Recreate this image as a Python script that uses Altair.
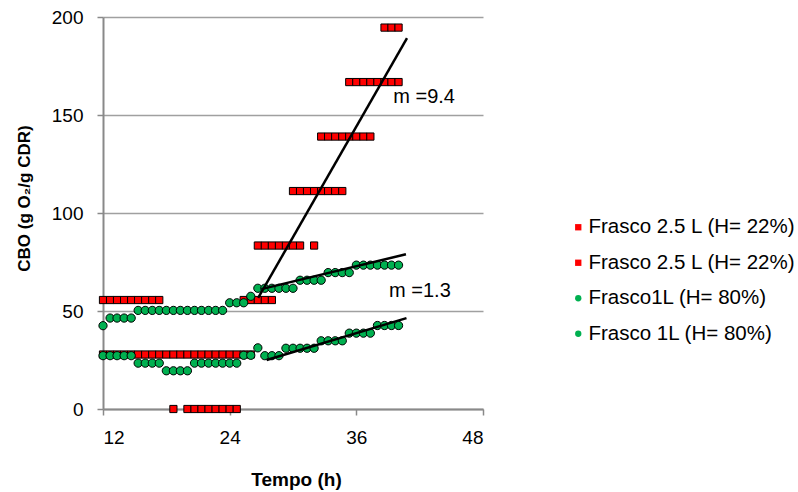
import json
import altair as alt
import pandas as pd

# Sampling times (h), one reading every 40 min
TIME_H = [12.0, 12.67, 13.33, 14.0, 14.67, 15.33, 16.0, 16.67, 17.33, 18.0,
          18.67, 19.33, 20.0, 20.67, 21.33, 22.0, 22.67, 23.33, 24.0, 24.67,
          25.33, 26.0, 26.67, 27.33, 28.0, 28.67, 29.33, 30.0, 30.67, 31.33,
          32.0, 32.67, 33.33, 34.0, 34.67, 35.33, 36.0, 36.67, 37.33, 38.0,
          38.67, 39.33, 40.0]

SERIES_NAMES = ["Frasco 2.5 L (H= 22%)", "Frasco 2.5 L (H= 22%)",
                "Frasco1L (H= 80%)", "Frasco 1L (H= 80%)"]
SERIES_FILL = ["#FF0000", "#FF0000", "#00B050", "#00B050"]
SERIES_SHAPE = ["square", "square", "circle", "circle"]

N = None
# CBO (g O2 / g CDR) per series, aligned with TIME_H
CBO_25L_A = [55.6, 55.6, 55.6, 55.6, 55.6, 55.6, 55.6, 55.6, 55.6, N,
             0, N, 0, 0, 0, 0, 0, 0, 0, 0,
             55.6, 55.6, 55.6, 55.6, 55.6, N, N, 111.2, 111.2, 111.2,
             111.2, 111.2, 111.2, 111.2, 111.2, 166.8, 166.8, 166.8, 166.8, 166.8,
             166.8, 166.8, 166.8]
CBO_25L_B = [27.8, 27.8, 27.8, 27.8, 27.8, 27.8, 27.8, 27.8, 27.8, 27.8,
             27.8, 27.8, 27.8, 27.8, 27.8, 27.8, 27.8, 27.8, 27.8, 27.8,
             27.8, 27.8, 83.4, 83.4, 83.4, 83.4, 83.4, 83.4, 83.4, N,
             83.4, 139.0, 139.0, 139.0, 139.0, 139.0, 139.0, 139.0, 139.0, N,
             194.6, 194.6, 194.6]
CBO_1L_A = [42.5, 46.4, 46.4, 46.4, 46.4, 50.3, 50.3, 50.3, 50.3, 50.3,
            50.3, 50.3, 50.3, 50.3, 50.3, 50.3, 50.3, 50.3, 54.2, 54.2,
            54.2, 57.5, 61.6, 61.6, 61.6, 61.6, 61.6, 61.6, 65.7, 65.7,
            65.7, 65.7, 69.6, 69.6, 69.6, 69.6, 73.4, 73.4, 73.4, 73.4,
            73.4, 73.4, 73.4]
CBO_1L_B = [27.2, 27.2, 27.2, 27.2, 27.2, 23.4, 23.4, 23.4, 23.4, 19.5,
            19.5, 19.5, 19.5, 23.4, 23.4, 23.4, 23.4, 23.4, 23.4, 23.4,
            27.4, 27.4, 31.2, 27.2, 27.2, 27.2, 31.0, 31.0, 31.0, 31.0,
            31.0, 34.8, 34.8, 34.8, 34.8, 38.7, 38.7, 38.7, 38.7, 42.6,
            42.6, 42.6, 42.6]

# Linear trend lines: slope, intercept, time span
FIT_SLOPE = [9.4, 1.3, 1.61]
FIT_INTERCEPT = [-194.3, 26.05, -19.25]
FIT_T0 = [26.7, 27.0, 27.5]
FIT_T1 = [40.8, 40.7, 40.75]

# Slope annotations
NOTE_TEXT = ["m =9.4", "m =1.3"]
NOTE_T = [39.5, 39.1]
NOTE_V = [159.0, 60.0]

FONT = "Liberation Sans"
AXIS_GREY = "#898989"

rows = []
for s, vals in enumerate([CBO_25L_A, CBO_25L_B, CBO_1L_A, CBO_1L_B]):
    for t, v in zip(TIME_H, vals):
        if v is not None:
            rows.append({"t": t, "v": v, "s": s})
pts = pd.DataFrame(rows)

fit_rows = []
for k, (m, b, t0, t1) in enumerate(zip(FIT_SLOPE, FIT_INTERCEPT, FIT_T0, FIT_T1)):
    fit_rows.append({"t": t0, "v": m * t0 + b, "line": k})
    fit_rows.append({"t": t1, "v": m * t1 + b, "line": k})
fits = pd.DataFrame(fit_rows)

notes = pd.DataFrame({"t": NOTE_T, "v": NOTE_V, "label": NOTE_TEXT})

x_scale = alt.Scale(domain=[12, 48], nice=False, zero=False)
y_scale = alt.Scale(domain=[0, 200], nice=False)

x_axis = alt.Axis(values=[12, 24, 36, 48], grid=False, domainColor=AXIS_GREY,
                  domainWidth=2, tickColor=AXIS_GREY, tickWidth=1.5, tickSize=6,
                  labelFont=FONT, labelFontSize=19, labelColor="black",
                  labelPadding=13, titleFont=FONT, titleFontSize=19,
                  titleFontWeight="bold", titleColor="black", titleX=193,
                  titleY=76, titleBaseline="alphabetic")
y_axis = alt.Axis(values=[0, 50, 100, 150, 200], grid=True, gridColor="#A0A0A0",
                  gridWidth=1.5, domainColor=AXIS_GREY, domainWidth=2,
                  tickColor=AXIS_GREY, tickWidth=1.5, tickSize=6,
                  labelFont=FONT, labelFontSize=19, labelColor="black",
                  labelPadding=14, titleFont=FONT, titleFontSize=17,
                  titleFontWeight="bold", titleColor="black", titleAngle=270,
                  titleX=-79, titleY=181, titleAlign="center",
                  titleBaseline="middle")

label_expr = json.dumps(SERIES_NAMES) + "[datum.value]"
legend = alt.Legend(orient="none", legendX=465, legendY=200, title=None,
                    labelExpr=label_expr, labelFont=FONT, labelFontSize=20.5,
                    labelColor="black", labelLimit=400, symbolSize=40,
                    symbolStrokeColor="black", symbolStrokeWidth=1,
                    rowPadding=14.5, labelOffset=0)

fill_enc = alt.Fill("s:N", scale=alt.Scale(domain=[0, 1, 2, 3], range=SERIES_FILL),
                    legend=legend)
shape_enc = alt.Shape("s:N", scale=alt.Scale(domain=[0, 1, 2, 3], range=SERIES_SHAPE),
                      legend=legend)
x_enc = alt.X("t:Q", scale=x_scale, axis=x_axis, title="Tempo (h)")
y_enc = alt.Y("v:Q", scale=y_scale, axis=y_axis, title="CBO (g  O₂/g CDR)")

base = alt.Chart(pts)

# 2.5 L flasks: red squares
squares = base.transform_filter("datum.s < 2").mark_point(
    filled=True, stroke="black", strokeWidth=1, opacity=1, size=52
).encode(x=x_enc, y=y_enc, fill=fill_enc, shape=shape_enc, order=alt.Order("s:Q"))

# 1 L flasks: green circles, drawn over the squares
circles = base.transform_filter("datum.s >= 2").mark_point(
    filled=True, stroke="black", strokeWidth=1, opacity=1, size=68
).encode(x=x_enc, y=y_enc, fill=fill_enc, shape=shape_enc, order=alt.Order("s:Q"))

trend = alt.Chart(fits).mark_line(color="black", strokeWidth=2.5).encode(
    x=alt.X("t:Q", scale=x_scale),
    y=alt.Y("v:Q", scale=y_scale),
    detail="line:N",
)

labels = alt.Chart(notes).mark_text(align="left", baseline="middle", font=FONT,
                                    fontSize=20, color="black").encode(
    x=alt.X("t:Q", scale=x_scale),
    y=alt.Y("v:Q", scale=y_scale),
    text="label:N",
)

chart = alt.layer(squares, circles, trend, labels).properties(
    width=380, height=392,
    autosize=alt.AutoSizeParams(type="none"),
    padding={"left": 103, "top": 17, "right": 315, "bottom": 83},
    background="white",
).configure_view(stroke=None)

chart.save("out.html", embed_options={"renderer": "svg", "actions": False})
